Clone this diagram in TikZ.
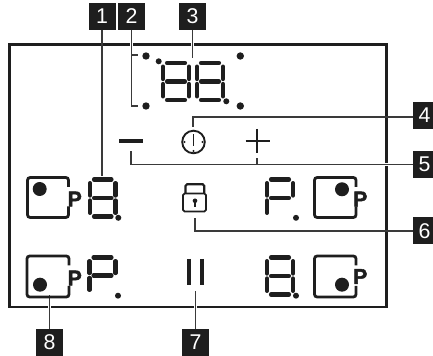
\documentclass[tikz,border=0pt]{standalone}
\usepackage{fontspec}
\setmainfont{Liberation Sans}
\newfontfamily\pfont[FakeBold=2.2]{Liberation Sans Bold}
\definecolor{ink}{HTML}{1E1E1E}
\definecolor{lead}{HTML}{3A3A3A}
\tikzset{
  tag/.style={fill=ink,text=white,inner sep=0pt,minimum width=20.25pt,minimum height=20.25pt,font=\fontsize{16}{16}\selectfont},
  tagcut/.style={tag,minimum width=17.25pt},
  leader/.style={draw=lead,line width=0.8pt,preaction={draw=white,line width=2.2pt}},
  frameline/.style={draw=ink,line width=1.9pt,line join=miter},
  seg/.style={draw=ink,line width=3.1pt,line cap=round},
  keybox/.style={draw=ink,line width=2.1pt,rounded corners=2pt},
  pmark/.style={inner sep=0pt,font=\fontsize{16}{16}\selectfont\pfont,text=ink},
  sym/.style={draw=ink,line width=1.6pt},
  thick bar/.style={draw=ink,line width=2.7pt}
}
\newcommand{\hsegm}[3]{\draw[seg] ({#1+4},#3) -- ({#2-4},#3);}
\newcommand{\vsegm}[3]{\draw[seg] (#1,{#2+3.6}) -- (#1,{#3-2.4});}
\newcommand{\vsegl}[3]{\draw[seg] (#1,{#2+2.4}) -- (#1,{#3-3.6});}
% L R T B : common parts of the figure P
\newcommand{\digitP}[4]{%
  \pgfmathsetmacro{\mymid}{(#3+#4)/2}%
  \hsegm{#1}{#2}{#3}\hsegm{#1}{#2}{\mymid}%
  \vsegm{#1}{#3}{\mymid}\vsegm{#2}{#3}{\mymid}\vsegl{#1}{\mymid}{#4}}
\newcommand{\digitE}[4]{%
  \digitP{#1}{#2}{#3}{#4}%
  \hsegm{#1}{#2}{#4}\vsegl{#2}{\mymid}{#4}}
\newcommand{\bdot}[3]{\fill[ink] (#1,#2) circle (#3);}
% L R T B
\newcommand{\keyframe}[4]{%
  \draw[keybox] (#2,{#3+9.5}) -- (#2,#3) -- (#1,#3) -- (#1,#4) -- (#2,#4) -- (#2,{#4-11});}
\begin{document}
\begin{tikzpicture}[x=0.75pt,y=-0.75pt]
\useasboundingbox (0,0) rectangle (433,356);
\clip (0,0) rectangle (433,356);
\fill[white] (0,0) rectangle (433,356);

% frame
\draw[frameline] (9.5,44.5) rectangle (386.5,307);

% label boxes
\node[tag] (n1) at (102,16.5) {1};
\node[tag] (n2) at (131.5,16.5) {2};
\node[tag] (n3) at (192.5,16.5) {3};
\node[tagcut] (n4) at (424.5,115.5) {4};
\node[tagcut] (n5) at (424.5,164.5) {5};
\node[tagcut] (n6) at (424.5,231) {6};
\node[tag] (n7) at (195.5,342.5) {7};
\node[tag] (n8) at (49.5,342.5) {8};

% free ends of the leaders
\coordinate (c1) at (102,176);
\coordinate (c2a) at (138,55);
\coordinate (c2b) at (131.5,106);
\coordinate (c2c) at (138,106);
\coordinate (c3) at (192.5,58);
\coordinate (c4a) at (193,117);
\coordinate (c4b) at (193,127);
\coordinate (c5a) at (131,164.5);
\coordinate (c5b) at (131,151);
\coordinate (c5c) at (257,164.5);
\coordinate (c5d) at (257,158);
\coordinate (c6a) at (195,231);
\coordinate (c6b) at (195,218);
\coordinate (c7) at (195.5,291);
\coordinate (c8) at (49.5,295);

% leaders
\draw[leader] (n1.south) -- (c1);
\draw[leader] (n2.south) -- (c2b) -- (c2c);
\draw[leader] (131.5,55) -- (c2a);
\draw[leader] (n3.south) -- (c3);
\draw[leader] (n4.west |- c4a) -- (c4a) -- (c4b);
\draw[leader] (n5.west) -- (c5a) -- (c5b);
\draw[draw=lead,line width=0.8pt] (c5c) -- (c5d);
\draw[leader] (n6.west) -- (c6a) -- (c6b);
\draw[leader] (n7.north) -- (c7);
\draw[leader] (n8.north) -- (c8);

% top display
\bdot{146}{56}{3.7}\bdot{146}{106}{3.7}\bdot{240.3}{56}{3.7}\bdot{240.3}{106}{3.7}
\bdot{158.7}{61.3}{3}\bdot{226.3}{101.3}{3}
\digitE{163}{189}{63}{100}
\digitE{197}{223}{63}{100}

% minus, clock, plus
\draw[thick bar] (119,141) -- (143,141);
\draw[draw=ink,line width=1.4pt] (193.5,142) circle (11.3);
\draw[draw=ink,line width=1pt] (193.5,134.5) -- (193.5,146);
\bdot{184.5}{142}{1.1}\bdot{202.5}{142}{1.1}\bdot{193.5}{151}{1.1}
\draw[sym] (245.5,141) -- (269.5,141);
\draw[sym] (257,129) -- (257,153);

% left upper key and digit
\keyframe{27.5}{68.5}{177.5}{217.5}
\bdot{39.7}{189}{7}
\node[pmark] (p1) at (74.7,199) {P};
\digitE{90}{115.5}{179.5}{216.5}
\bdot{118.3}{217.8}{3}

% lock
\draw[sym] (185.5,193) -- (185.5,186) -- ++(1.5,-1.7) -- (202.8,184.3) -- ++(1.5,1.7) -- (204.3,193);
\draw[draw=ink,line width=1.4pt,rounded corners=1.2pt] (183,193.5) rectangle (206,211.5);
\bdot{195}{200.8}{2.3}
\draw[draw=ink,line width=1.2pt] (195,201) -- (195,206.8);

% right upper digit and key
\digitP{267}{293}{179.5}{216.5}
\bdot{296}{217.8}{3}
\keyframe{314.5}{356}{177.5}{217.5}
\bdot{342}{189.3}{7}
\node[pmark] (p2) at (360.2,199) {P};

% left lower key and digit
\keyframe{27}{69}{256}{297}
\bdot{40}{284.7}{7}
\node[pmark] (p3) at (74.7,278) {P};
\digitP{89.5}{115.5}{257.5}{293.5}
\bdot{118}{295.7}{3}

% pause
\draw[draw=ink,line width=3.3pt] (189,259) -- (189,285);
\draw[draw=ink,line width=3.3pt] (202,259) -- (202,285);

% right lower digit and key
\digitE{267}{293}{257.5}{294.5}
\bdot{296}{295.7}{3}
\keyframe{314.5}{356}{256}{297}
\bdot{342}{284.7}{7}
\node[pmark] (p4) at (360.2,276.5) {P};
\end{tikzpicture}
\end{document}
